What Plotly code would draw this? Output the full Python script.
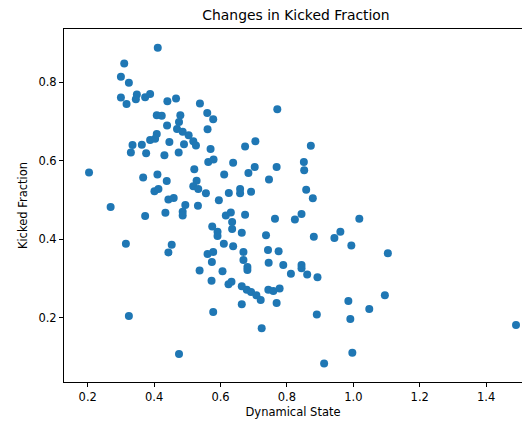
import plotly.graph_objects as go

dyn_state = [0.411,0.310,0.300,0.324,0.300,0.317,0.348,0.345,0.373,0.388,0.408,0.408,0.388,0.403,0.335,0.363,0.330,0.376,0.204,0.367,0.410,0.401,0.413,0.269,0.373,0.315,0.324,
0.423,0.440,0.466,0.479,0.475,0.439,0.469,0.486,0.504,0.446,0.431,0.474,0.490,0.518,0.526,0.521,0.438,0.528,0.518,0.533,0.443,0.459,0.494,0.532,0.486,0.486,0.434,0.453,0.443,0.475,
0.538,0.560,0.578,0.561,0.570,0.563,0.579,0.638,0.611,0.556,0.595,0.625,0.659,0.659,0.692,0.616,0.631,0.635,0.635,0.674,0.575,0.591,0.591,0.610,0.638,0.664,0.561,0.578,0.574,0.537,0.606,0.573,0.624,0.633,0.578,
0.771,0.674,0.705,0.684,0.703,0.769,0.746,0.764,0.824,0.844,0.737,0.669,0.669,0.681,0.681,0.743,0.775,0.745,0.789,0.812,0.844,0.844,0.861,0.892,0.664,0.679,0.692,0.708,0.721,0.744,0.759,0.778,0.769,0.664,0.724,0.912,
0.872,0.851,0.852,0.858,0.878,0.881,0.943,0.961,0.994,1.018,1.104,1.095,0.985,1.048,0.991,0.890,0.997,1.490]

kicked_fraction = [0.888,0.848,0.814,0.799,0.761,0.745,0.769,0.757,0.762,0.770,0.716,0.668,0.653,0.656,0.640,0.641,0.621,0.619,0.570,0.557,0.565,0.522,0.528,0.482,0.459,0.388,0.204,
0.715,0.752,0.759,0.716,0.699,0.690,0.681,0.674,0.665,0.648,0.614,0.621,0.642,0.650,0.639,0.578,0.548,0.549,0.535,0.528,0.501,0.505,0.487,0.485,0.470,0.460,0.467,0.386,0.366,0.107,
0.746,0.722,0.706,0.680,0.630,0.597,0.603,0.595,0.565,0.517,0.499,0.518,0.528,0.517,0.521,0.460,0.468,0.444,0.426,0.462,0.432,0.419,0.408,0.388,0.382,0.416,0.362,0.367,0.342,0.320,0.318,0.294,0.285,0.291,0.214,
0.731,0.636,0.650,0.569,0.584,0.584,0.552,0.452,0.450,0.464,0.410,0.367,0.347,0.329,0.321,0.372,0.369,0.340,0.334,0.312,0.334,0.326,0.310,0.303,0.280,0.271,0.265,0.257,0.245,0.271,0.268,0.274,0.237,0.234,0.173,0.083,
0.638,0.597,0.576,0.526,0.504,0.406,0.403,0.419,0.384,0.452,0.364,0.257,0.242,0.222,0.196,0.208,0.110,0.181]

x_ticks = [0.2, 0.4, 0.6, 0.8, 1.0, 1.2, 1.4]
x_tick_labels = ["0.2", "0.4", "0.6", "0.8", "1.0", "1.2", "1.4"]
y_ticks = [0.2, 0.4, 0.6, 0.8]
y_tick_labels = ["0.2", "0.4", "0.6", "0.8"]

FONT = "DejaVu Sans"
W, H = 514, 411  # page body adds an 8px margin on each side

fig = go.Figure(go.Scatter(
    x=dyn_state, y=kicked_fraction, mode="markers",
    marker=dict(color="#1f77b4", size=8, line=dict(width=0)),
    showlegend=False,
))

fig.update_layout(
    width=W, height=H,
    margin=dict(l=56, r=0, t=21, b=37, autoexpand=False),
    paper_bgcolor="white", plot_bgcolor="white",
    font=dict(family=FONT, color="#000000", size=11.5),
    title=dict(text="Changes in Kicked Fraction", x=288 / W, xanchor="center",
               y=1 - 7 / H, yanchor="middle", automargin=False,
               font=dict(size=13.9, family=FONT, color="#000")),
)
fig.update_xaxes(
    range=[0.1286, 1.508], tickvals=x_ticks, ticktext=x_tick_labels, automargin=False,
    showgrid=False, zeroline=False, showline=True, mirror=True,
    linecolor="#000", linewidth=1, ticks="outside", ticklen=4, tickcolor="#000", tickwidth=1,
    tickfont=dict(size=11.5, family=FONT, color="#000"),
    title=dict(text="Dynamical State", font=dict(size=11.5, family=FONT, color="#000"), standoff=10),
)
fig.update_yaxes(
    range=[0.0356, 0.936], tickvals=y_ticks, ticktext=y_tick_labels, automargin=False,
    showgrid=False, zeroline=False, showline=True, mirror=False,
    linecolor="#000", linewidth=1, ticks="outside", ticklen=4, tickcolor="#000", tickwidth=1,
    tickfont=dict(size=11.5, family=FONT, color="#000"),
    title=dict(text="Kicked Fraction", font=dict(size=11.5, family=FONT, color="#000"), standoff=8),
)

fig.write_html("out.html")
